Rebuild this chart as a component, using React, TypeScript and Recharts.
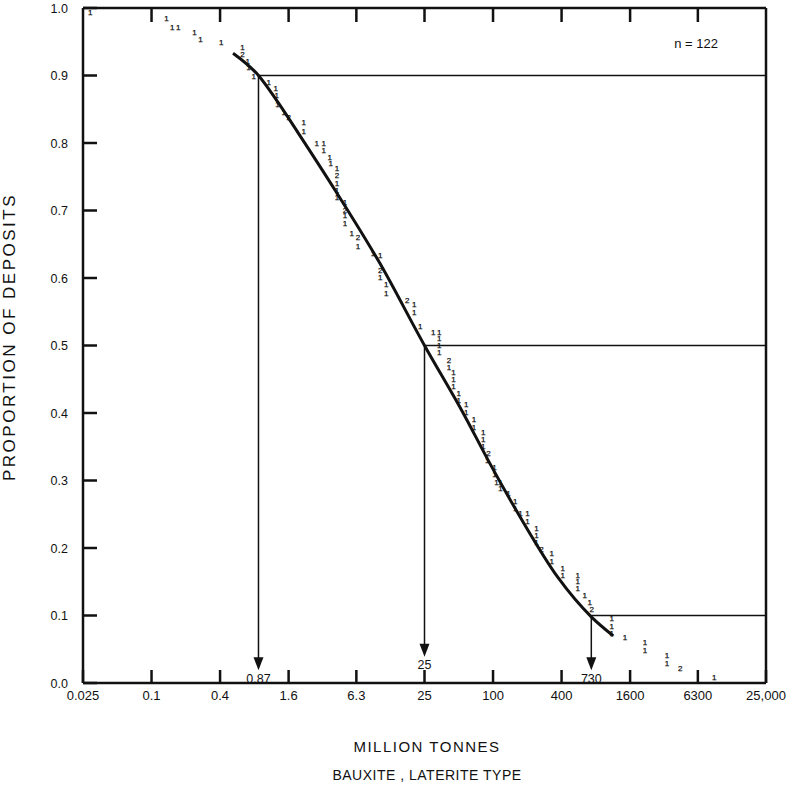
import React from 'react'
import {
  ComposedChart,
  Line,
  Scatter,
  XAxis,
  YAxis,
  ReferenceLine,
  Label,
} from 'recharts'

// deposit tonnage (million tonnes), proportion of deposits, numerals as printed
const tonnage = [
  0.029, 0.135, 0.152, 0.172, 0.238, 0.269, 0.41, 0.63, 0.63, 0.7,
  0.71, 0.79, 1.07, 1.23, 1.26, 1.28, 1.45, 1.6, 2.17, 2.17,
  2.83, 3.26, 3.26, 3.68, 3.76, 4.25, 4.25, 4.25, 4.25, 4.25,
  5.0, 5.0, 5.0, 5.0, 5.75, 6.5, 6.5, 8.8, 10.2, 10.2,
  10.2, 11.5, 11.5, 17.6, 20.3, 20.3, 22.9, 29.8, 33.7, 33.7,
  33.7, 33.7, 41, 41, 45, 45, 45, 50, 50, 58,
  58, 68, 68, 82, 82, 82, 91, 89, 103, 103,
  107, 116, 116, 137, 157, 157, 174, 201, 201, 241,
  241, 241, 267, 327, 327, 409, 409, 555, 555, 555,
  639, 707, 736, 1106, 1106, 1106, 1440, 2160, 2160, 3380,
  3380, 4400, 8760,
]
const proportion = [
  0.994, 0.985, 0.972, 0.972, 0.964, 0.954, 0.95, 0.942, 0.932, 0.921,
  0.913, 0.899, 0.89, 0.881, 0.871, 0.858, 0.846, 0.839, 0.831, 0.818,
  0.8, 0.8, 0.79, 0.779, 0.77, 0.763, 0.753, 0.741, 0.73, 0.72,
  0.713, 0.701, 0.693, 0.681, 0.667, 0.661, 0.647, 0.637, 0.634, 0.612,
  0.601, 0.591, 0.578, 0.567, 0.561, 0.55, 0.529, 0.52, 0.52, 0.511,
  0.501, 0.49, 0.479, 0.468, 0.461, 0.45, 0.44, 0.43, 0.419, 0.413,
  0.401, 0.391, 0.379, 0.372, 0.361, 0.351, 0.341, 0.33, 0.32, 0.31,
  0.298, 0.298, 0.289, 0.281, 0.27, 0.259, 0.252, 0.252, 0.24, 0.23,
  0.219, 0.209, 0.199, 0.193, 0.181, 0.17, 0.16, 0.16, 0.151, 0.141,
  0.13, 0.12, 0.11, 0.096, 0.084, 0.074, 0.068, 0.061, 0.049, 0.041,
  0.03, 0.022, 0.009,
]
const count = [
  1, 1, 1, 1, 1, 1, 1, 1, 2, 1,
  1, 1, 1, 1, 1, 1, 1, 2, 1, 1,
  1, 1, 1, 1, 1, 1, 2, 1, 1, 1,
  1, 2, 1, 1, 1, 2, 1, 1, 1, 2,
  1, 1, 1, 2, 1, 1, 1, 1, 1, 1,
  1, 1, 2, 1, 1, 1, 1, 1, 1, 1,
  1, 1, 1, 1, 1, 1, 2, 1, 1, 1,
  1, 1, 1, 1, 1, 1, 1, 1, 1, 1,
  1, 1, 2, 1, 1, 1, 1, 1, 1, 1,
  1, 1, 2, 1, 1, 1, 1, 1, 1, 1,
  1, 2, 1,
]

// fitted curve
const curveTonnage = [0.52, 0.87, 1.27, 1.94, 4.1, 10.2, 25, 54.6, 94, 173, 373, 730, 1135]
const curveProportion = [0.933, 0.9, 0.862, 0.815, 0.73, 0.621, 0.5, 0.4, 0.325, 0.246, 0.156, 0.098, 0.07]

// 90th, 50th, 10th percentiles
const markTonnage = [0.87, 25, 730]
const markProportion = [0.9, 0.5, 0.1]
const markLabels = ['0.87', '25', '730']
const arrowTip = [0.019, 0.039, 0.019]

const xTicks = [0.025, 0.1, 0.4, 1.6, 6.3, 25, 100, 400, 1600, 6300, 25000]
const xTickLabels = ['0.025', '0.1', '0.4', '1.6', '6.3', '25', '100', '400', '1600', '6300', '25,000']
const yTicks = [0, 0.1, 0.2, 0.3, 0.4, 0.5, 0.6, 0.7, 0.8, 0.9, 1.0]

const font = 'Liberation Sans, Arial, Helvetica, sans-serif'
const ink = '#111'

const points = tonnage.map((t, i) => ({ t, p: proportion[i], c: count[i] }))
const curve = curveTonnage.map((t, i) => ({ t, p: curveProportion[i] }))
const arrows = markTonnage.map((t, i) => ({ t, p: arrowTip[i], label: markLabels[i] }))

const BottomTick = ({ x, y, payload }: any) => (
  <g>
    <line x1={x} y1={y} x2={x} y2={y - 13} stroke={ink} strokeWidth={2.5} />
    <text x={x} y={y + 17} textAnchor="middle" fontSize={13} fontFamily={font} fill={ink}>
      {xTickLabels[xTicks.indexOf(payload.value)]}
    </text>
  </g>
)

const TopTick = ({ x, y }: any) => (
  <line x1={x} y1={y} x2={x} y2={y + 14} stroke={ink} strokeWidth={2.5} />
)

const LeftTick = ({ x, y, payload }: any) => (
  <g>
    <line x1={x} y1={y} x2={x + 14} y2={y} stroke={ink} strokeWidth={2.5} />
    <text x={x - 15} y={y + 4.5} textAnchor="end" fontSize={12.5} fontFamily={font} fill={ink}>
      {payload.value.toFixed(1)}
    </text>
  </g>
)

const RightTick = ({ x, y }: any) => (
  <line x1={x} y1={y} x2={x - 13} y2={y} stroke={ink} strokeWidth={2.5} />
)

const Numeral = ({ cx, cy, payload }: any) => (
  <text
    x={cx}
    y={cy + 3}
    textAnchor="middle"
    fontSize={8}
    fontFamily={font}
    fill={ink}
    stroke={ink}
    strokeWidth={0.25}
  >
    {payload.c}
  </text>
)

const Arrow = ({ cx, cy, payload }: any) => (
  <g>
    <path d={`M${cx},${cy} L${cx - 5},${cy - 13} L${cx + 5},${cy - 13} Z`} fill={ink} />
    <text x={cx} y={cy + 12.5} textAnchor="middle" fontSize={12.5} fontFamily={font} fill={ink}>
      {payload.label}
    </text>
  </g>
)

const XTitle = () => (
  <g fontFamily={font} fill={ink} textAnchor="middle">
    <text x={427} y={752} fontSize={15} letterSpacing={1.5}>MILLION TONNES</text>
    <text x={427} y={780} fontSize={14} letterSpacing={0.5}>BAUXITE , LATERITE TYPE</text>
    <text x={696} y={48} fontSize={13}>n = 122</text>
  </g>
)

const YTitle = () => (
  <text
    x={15}
    y={337}
    transform="rotate(-90 15 337)"
    textAnchor="middle"
    fontSize={17}
    letterSpacing={2.5}
    fontFamily={font}
    fill={ink}
  >
    PROPORTION OF DEPOSITS
  </text>
)

export default function App() {
  const axisLine = { stroke: ink, strokeWidth: 2.5 }
  return (
    <div style={{ position: 'absolute', left: 0, top: 0, background: '#fff' }}>
      <ComposedChart width={790} height={791} margin={{ top: 0, right: 0, bottom: 78, left: 0 }}>
        <XAxis
          dataKey="t"
          type="number"
          scale="log"
          domain={[0.025, 25000]}
          allowDataOverflow
          ticks={xTicks}
          interval={0}
          height={30}
          tickSize={0}
          tickMargin={0}
          tickLine={false}
          axisLine={axisLine}
          tick={<BottomTick />}
        >
          <Label content={XTitle} />
        </XAxis>
        <XAxis
          xAxisId="top"
          dataKey="t"
          type="number"
          scale="log"
          orientation="top"
          domain={[0.025, 25000]}
          allowDataOverflow
          ticks={xTicks.slice(1, -1)}
          interval={0}
          height={8}
          tickSize={0}
          tickMargin={0}
          tickLine={false}
          axisLine={axisLine}
          tick={<TopTick />}
        />
        <YAxis
          type="number"
          domain={[0, 1]}
          ticks={yTicks}
          interval={0}
          width={83}
          tickSize={0}
          tickMargin={0}
          tickLine={false}
          axisLine={axisLine}
          tick={<LeftTick />}
        >
          <Label content={YTitle} />
        </YAxis>
        <YAxis
          yAxisId="right"
          orientation="right"
          type="number"
          domain={[0, 1]}
          ticks={yTicks.slice(1, -1)}
          interval={0}
          width={24}
          tickSize={0}
          tickMargin={0}
          tickLine={false}
          axisLine={axisLine}
          tick={<RightTick />}
        />
        {markTonnage.map((t, i) => (
          <ReferenceLine
            key={`h${i}`}
            segment={[
              { x: t, y: markProportion[i] },
              { x: 25000, y: markProportion[i] },
            ]}
            stroke={ink}
            strokeWidth={1.5}
          />
        ))}
        {markTonnage.map((t, i) => (
          <ReferenceLine
            key={`v${i}`}
            segment={[
              { x: t, y: markProportion[i] },
              { x: t, y: arrowTip[i] + 0.015 },
            ]}
            stroke={ink}
            strokeWidth={1.5}
          />
        ))}
        <Line
          data={curve}
          dataKey="p"
          type="monotone"
          stroke={ink}
          strokeWidth={3}
          dot={false}
          isAnimationActive={false}
        />
        <Scatter data={points} dataKey="p" shape={<Numeral />} isAnimationActive={false} />
        <Scatter data={arrows} dataKey="p" shape={<Arrow />} isAnimationActive={false} />
      </ComposedChart>
    </div>
  )
}
